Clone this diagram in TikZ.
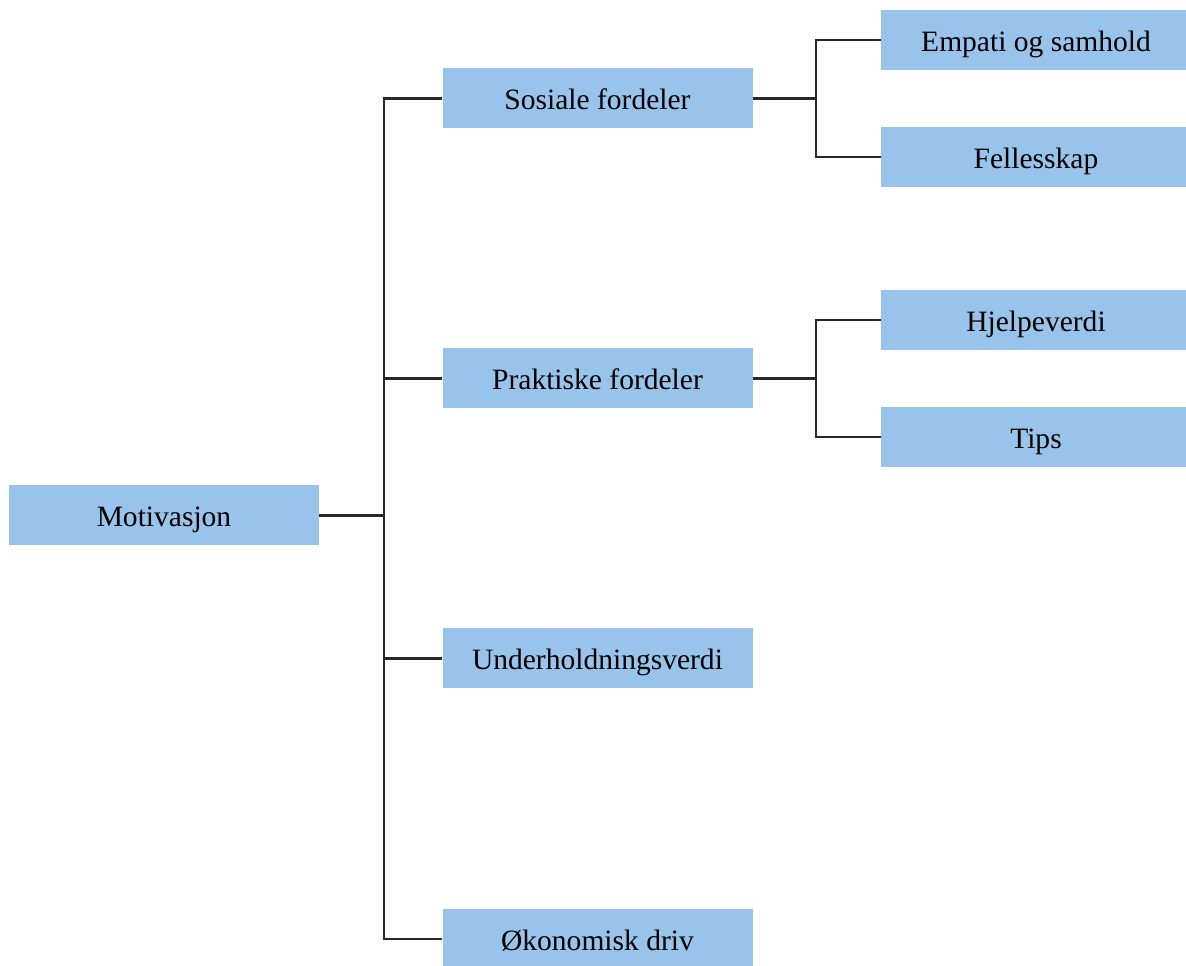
\documentclass[tikz,border=0pt]{standalone}
\usepackage{fontspec}
\setmainfont{Liberation Serif}
\usepackage{xcolor}
\usepackage{tikz}
\usetikzlibrary{positioning,calc}
\definecolor{boxblue}{RGB}{152,196,235}
\definecolor{linegray}{RGB}{40,40,40}

\tikzset{
    topic/.style={fill=boxblue, minimum width=6.2cm, minimum height=1.2cm,
        inner sep=0pt, text height=0.5cm, text depth=0.04cm,
        font=\fontsize{16.8}{20}\selectfont},
    branch/.style={draw=linegray, line width=1.4pt}
}

\begin{document}
\begin{tikzpicture}
    \useasboundingbox (0,0) rectangle (23.72,19.32);

    % Root
    \node[topic] (mot) at (3.28,9.01) {Motivasjon};

    % Main reasons
    \node[topic] (sos) at (11.95,17.35) {Sosiale fordeler};
    \node[topic] (prak) at (11.95,11.75) {Praktiske fordeler};
    \node[topic] (und) at (11.95,6.15) {Underholdningsverdi};
    \node[topic] (oko) at (11.95,0.54) {Økonomisk driv};

    % Sub reasons
    \node[topic] (emp) at (20.72,18.52) {Empati og samhold};
    \node[topic] (fel) at (20.72,16.18) {Fellesskap};
    \node[topic] (hje) at (20.72,12.92) {Hjelpeverdi};
    \node[topic] (tips) at (20.72,10.58) {Tips};

    % Trunk
    \coordinate (trunk) at (7.68,9.01);
    \draw[branch] (mot.east) -- (trunk);
    \foreach \child in {sos,prak,und,oko}
        \draw[branch] (trunk) |- (\child.west);

    % Sub branches
    \coordinate (sosfork) at (16.32,17.35);
    \draw[branch] (sos.east) -- (sosfork);
    \draw[branch] (sosfork) |- (emp.west);
    \draw[branch] (sosfork) |- (fel.west);

    \coordinate (prakfork) at (16.32,11.75);
    \draw[branch] (prak.east) -- (prakfork);
    \draw[branch] (prakfork) |- (hje.west);
    \draw[branch] (prakfork) |- (tips.west);
\end{tikzpicture}
\end{document}
